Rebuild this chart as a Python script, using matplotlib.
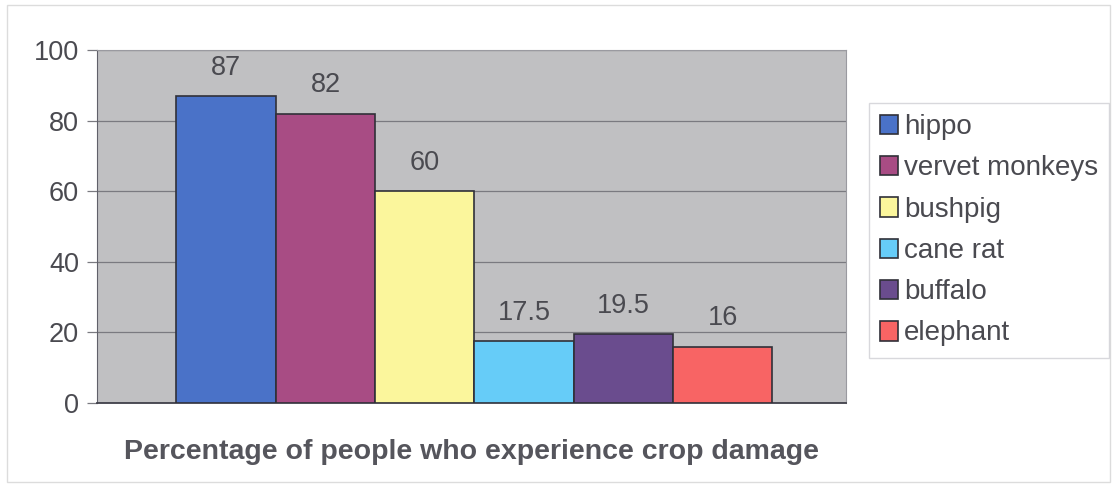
import matplotlib.pyplot as plt
from matplotlib.patches import Rectangle

animals = ["hippo", "vervet monkeys", "bushpig", "cane rat", "buffalo", "elephant"]
percent = [87, 82, 60, 17.5, 19.5, 16]
labels = ["87", "82", "60", "17.5", "19.5", "16"]
colors = ["#4a72c8", "#a84c84", "#fbf69c", "#66ccf8", "#6a4c8e", "#f86464"]

plt.rcParams["font.family"] = ["Liberation Sans", "DejaVu Sans"]
txt = "#4a4a50"

fig = plt.figure(figsize=(11.16, 4.9), dpi=100)
ax = fig.add_axes([97 / 1116, 1 - 403 / 490, 749 / 1116, 353 / 490])
ax.set_facecolor("#c0c0c2")

x = list(range(len(animals)))
bars = ax.bar(x, percent, width=1.0, color=colors, edgecolor="#303038",
              linewidth=1.2, label=animals, zorder=3)

for xi, v, s in zip(x, percent, labels):
    ax.annotate(s, (xi, v), xytext=(0, 11), textcoords="offset points",
                ha="center", va="bottom", fontsize=19.5, color=txt)

ax.set_xlim(-0.5 - 0.80, 5.5 + 0.74)
ax.set_ylim(0, 100)
ax.set_yticks([0, 20, 40, 60, 80, 100])
ax.set_xticks([])
ax.yaxis.grid(True, color="#7a7a80", linewidth=0.9, zorder=0)
ax.tick_params(axis="y", length=7, width=0.9, color="#7a7a80",
               labelsize=19.5, labelcolor=txt, pad=6)
for side in ["top", "right"]:
    ax.spines[side].set_color("#9a9aa0")
ax.spines["left"].set_color("#60606a")
ax.spines["bottom"].set_color("#40404a")
ax.spines["bottom"].set_linewidth(1.3)

ax.set_xlabel("Percentage of people who experience crop damage",
              fontsize=20.5, fontweight="bold", color="#55555c", labelpad=26)

leg = fig.legend(handles=bars, labels=animals, loc="upper left",
                 bbox_to_anchor=(869 / 1116, 1 - 103 / 490),
                 fontsize=20, frameon=True, fancybox=False,
                 handlelength=0.65, handleheight=0.7, handletextpad=0.2,
                 labelspacing=0.55, borderpad=0.4, borderaxespad=0)
leg.get_frame().set_edgecolor("#cfcfd4")
leg.get_frame().set_linewidth(1.0)
for t in leg.get_texts():
    t.set_color(txt)

# thin outer frame around the whole chart
fig.patches.append(Rectangle((7 / 1116, 8 / 490), 1103 / 1116, 477 / 490,
                             transform=fig.transFigure, fill=False,
                             edgecolor="#dcdcdc", linewidth=1.0))

fig.savefig("out.png", dpi=100)
